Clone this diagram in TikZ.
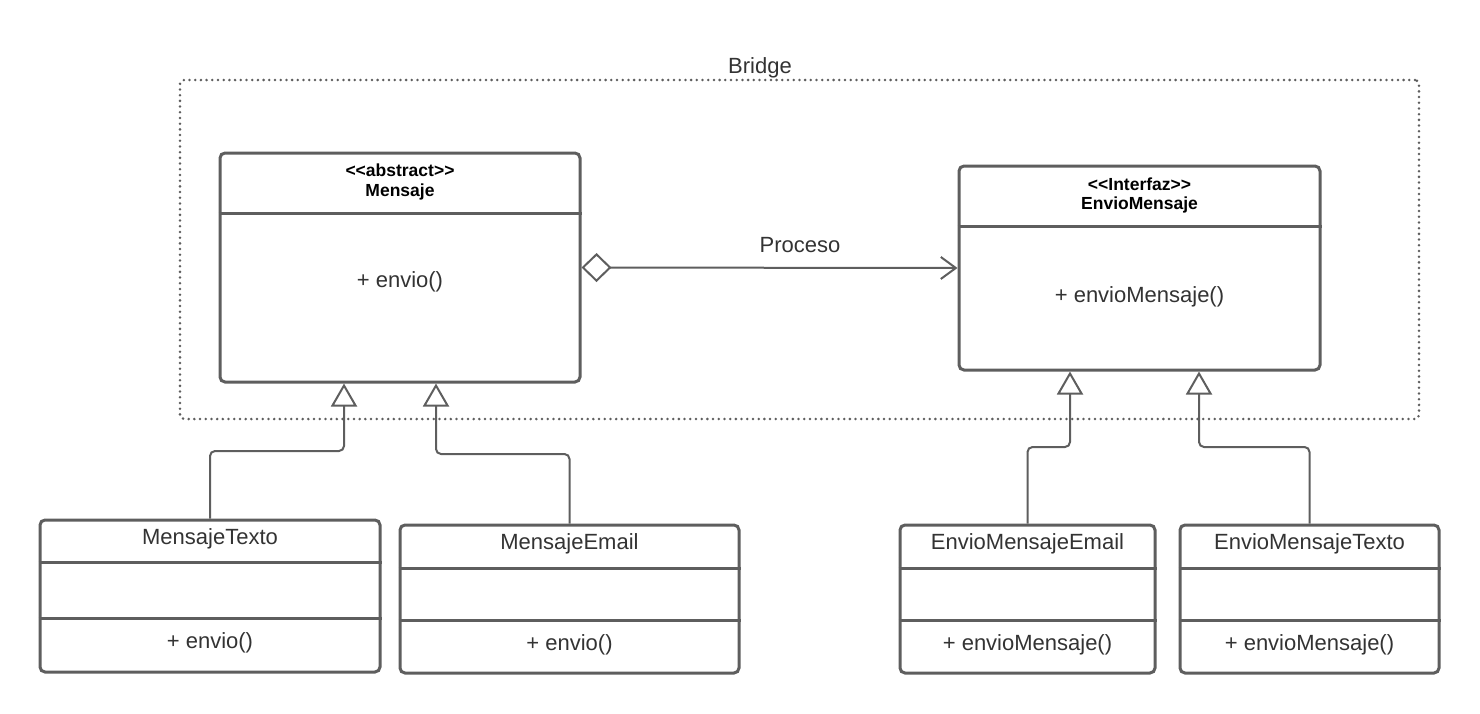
\documentclass[tikz,border=0pt]{standalone}
\usepackage{fontspec}
\setmainfont{Liberation Sans}
\usetikzlibrary{arrows.meta}
\definecolor{lc}{HTML}{5E5E5E}
\definecolor{tc}{HTML}{333333}
\begin{document}
\begin{tikzpicture}[x=1pt,y=-1pt,
  cls/.style={draw=lc, line width=3pt, rounded corners=5pt, inner sep=0pt, fill=white},
  txt/.style={text=tc, font=\fontsize{22}{26}\selectfont, inner sep=0pt},
  hdr/.style={text=black, font=\bfseries\fontsize{17.5}{21}\selectfont, inner sep=0pt},
  sep/.style={draw=lc, line width=3pt},
  frame/.style={draw=lc, line width=2.8pt, dash pattern=on 0pt off 5.7pt, line cap=round, rounded corners=4pt, inner sep=0pt},
  gen/.style={draw=lc, line width=2pt, rounded corners=5pt, -{Triangle[open,length=23pt,width=26pt]}},
  agg/.style={draw=lc, line width=2pt, {Diamond[open,length=30pt,width=29pt]}-{Straight Barb[length=15pt,width=22pt]}}
]
\useasboundingbox (0,0) rectangle (1480,713);

% Bridge frame
\node[frame, minimum width=1239pt, minimum height=339pt] (frame) at (799.5,249.5) {};
\node[txt] (bridge) at (760,68) {Bridge};

% Mensaje
\node[cls, minimum width=360pt, minimum height=229pt] (m) at (400,267.5) {};
\node[hdr] (mst) at (400,170) {<\kern0pt<abstract>\kern0pt>};
\node[hdr] (mname) at (400,192) {Mensaje};
\draw[sep] (m.west |- 0,213) -- (m.east |- 0,213);
\node[txt] (mop) at (400,282) {+ envio()};

% EnvioMensaje
\node[cls, minimum width=361pt, minimum height=204pt] (em) at (1139.5,268) {};
\node[hdr] (emst) at (1139.5,184) {<\kern0pt<Interfaz>\kern0pt>};
\node[hdr] (emname) at (1139.5,205) {EnvioMensaje};
\draw[sep] (em.west |- 0,226) -- (em.east |- 0,226);
\node[txt] (emop) at (1139.5,297) {+ envioMensaje()};

% association
\draw[agg] (m.east) -- (em.west);
\node[txt] (proc) at (800,245) {Proceso};

% MensajeTexto
\node[cls, minimum width=340pt, minimum height=152pt] (mt) at (210,596) {};
\node[txt] (mtname) at (210,539) {MensajeTexto};
\draw[sep] (mt.west |- 0,562) -- (mt.east |- 0,562);
\draw[sep] (mt.west |- 0,618) -- (mt.east |- 0,618);
\node[txt] (mtop) at (210,643) {+ envio()};

% MensajeEmail
\node[cls, minimum width=339pt, minimum height=148pt] (me) at (569.5,599) {};
\node[txt] (mename) at (569.5,544) {MensajeEmail};
\draw[sep] (me.west |- 0,568) -- (me.east |- 0,568);
\draw[sep] (me.west |- 0,620) -- (me.east |- 0,620);
\node[txt] (meop) at (569.5,645) {+ envio()};

% EnvioMensajeEmail
\node[cls, minimum width=255pt, minimum height=148pt] (eme) at (1027.5,599) {};
\node[txt] (emename) at (1027.5,544) {EnvioMensajeEmail};
\draw[sep] (eme.west |- 0,568) -- (eme.east |- 0,568);
\draw[sep] (eme.west |- 0,620) -- (eme.east |- 0,620);
\node[txt] (emeop) at (1027.5,645) {+ envioMensaje()};

% EnvioMensajeTexto
\node[cls, minimum width=259pt, minimum height=148pt] (emt) at (1309.5,599) {};
\node[txt] (emtname) at (1309.5,544) {EnvioMensajeTexto};
\draw[sep] (emt.west |- 0,568) -- (emt.east |- 0,568);
\draw[sep] (emt.west |- 0,620) -- (emt.east |- 0,620);
\node[txt] (emtop) at (1309.5,645) {+ envioMensaje()};

% generalizations
\draw[gen] (mt.north) -- (mt.north |- 0,451) -| (m.south -| 344,0);
\draw[gen] (me.north) -- (me.north |- 0,454) -| (m.south -| 436,0);
\draw[gen] (eme.north) -- (eme.north |- 0,447) -| (em.south -| 1070,0);
\draw[gen] (emt.north) -- (emt.north |- 0,447) -| (em.south -| 1199,0);
\end{tikzpicture}
\end{document}
